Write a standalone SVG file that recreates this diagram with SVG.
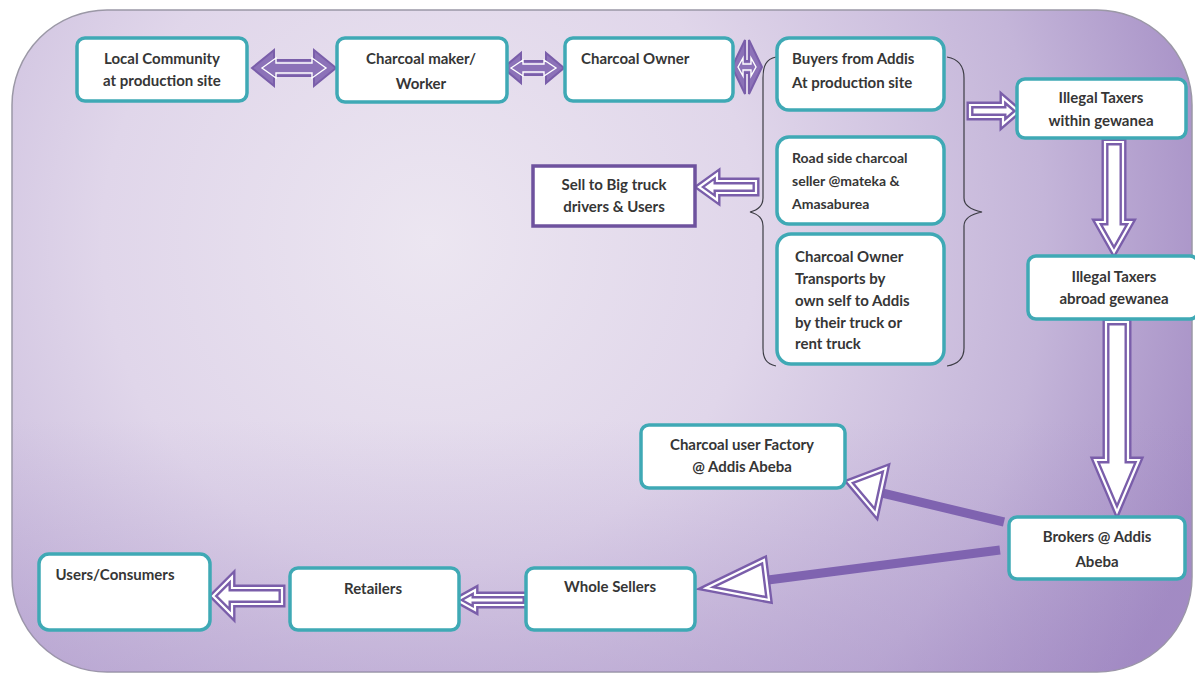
<svg xmlns="http://www.w3.org/2000/svg" width="1195" height="674" viewBox="0 0 1195 674">
<defs>
<radialGradient id="bg" gradientUnits="userSpaceOnUse" cx="430" cy="240" r="820">
<stop offset="0" stop-color="#ece6f1"/>
<stop offset="0.4" stop-color="#e0d6ea"/>
<stop offset="0.75" stop-color="#c4b5d9"/>
<stop offset="1" stop-color="#a38cc4"/>
</radialGradient>
<linearGradient id="bot" gradientUnits="userSpaceOnUse" x1="0" y1="420" x2="0" y2="672">
<stop offset="0" stop-color="#9f86c2" stop-opacity="0"/>
<stop offset="1" stop-color="#9f86c2" stop-opacity="0.35"/>
</linearGradient>
<style>
.node rect{fill:#ffffff;stroke:#3fa9b5;stroke-width:3.5}
.sq rect{fill:#ffffff;stroke:#6e529e;stroke-width:3.5}
text{font-family:Lato,"Open Sans","Liberation Sans",sans-serif;font-weight:bold;font-size:15px;fill:#363636}
.c{text-anchor:middle}
.sm{font-size:14px}
.blk{fill:#ffffff;stroke:#7a5eaa;stroke-width:7;stroke-linejoin:miter}
.blkin{fill:none;stroke:#ffffff;stroke-width:2.2;stroke-linejoin:miter}
.dbl{fill:#8c72b8;stroke:#7a5eaa;stroke-width:2}
.dblin{fill:none;stroke:#ffffff;stroke-width:1.4}
.shaft{stroke:#7f63b0;stroke-width:9;fill:none}
.brace{fill:none;stroke:#3c3c44;stroke-width:1.2}
</style>
</defs>
<rect x="12" y="10" width="1180" height="662" rx="95" ry="95" fill="url(#bg)" stroke="#9b98a6" stroke-width="1.5"/>
<rect x="12" y="10" width="1180" height="662" rx="95" ry="95" fill="url(#bot)"/>

<g id="connectors">
<polygon class="dbl" points="252,68 274,50 274,60 314,60 314,50 336,68 314,86 314,76 274,76 274,86"/>
<polygon class="dblin" points="262,68 276,58 276,63 312,63 312,58 326,68 312,78 312,73 276,73 276,78"/>
<polygon class="dbl" points="503,68 521,53 521,61 546,61 546,53 564,68 546,83 546,75 521,75 521,83"/>
<polygon class="dblin" points="511,68 523,60 523,64 544,64 544,60 556,68 544,76 544,72 523,72 523,76"/>
<polygon class="dbl" points="732,67 745,40 745,61 749,61 749,40 762,67 749,94 749,73 745,73 745,94"/>
<polygon class="dblin" points="738,67 743,58 743,64 751,64 751,58 756,67 751,76 751,70 743,70 743,76"/>
<polygon class="blk" points="970,105 1003,105 1003,98 1018,111 1003,124 1003,117 970,117"/>
<polygon class="blkin" points="970,105 1003,105 1003,98 1018,111 1003,124 1003,117 970,117"/>
<polygon class="blk" points="1105,142 1123,142 1123,222 1131,222 1114,252 1097,222 1105,222"/>
<polygon class="blkin" points="1105,142 1123,142 1123,222 1131,222 1114,252 1097,222 1105,222"/>
<polygon class="blk" points="1106,322 1128,322 1128,460 1139,460 1117,512 1095,460 1106,460"/>
<polygon class="blkin" points="1106,322 1128,322 1128,460 1139,460 1117,512 1095,460 1106,460"/>
<polygon class="blk" points="756,181 717,181 717,174 699,187 717,200 717,193 756,193"/>
<polygon class="blkin" points="756,181 717,181 717,174 699,187 717,200 717,193 756,193"/>
<polygon class="blk" points="526,595 475,595 475,590 457,600 475,610 475,605 526,605"/>
<polygon class="blkin" points="526,595 475,595 475,590 457,600 475,610 475,605 526,605"/>
<polygon class="blk" points="282,588 232,588 232,577 213,596 232,615 232,604 282,604"/>
<polygon class="blkin" points="282,588 232,588 232,577 213,596 232,615 232,604 282,604"/>
<line class="shaft" x1="1004" y1="522" x2="882" y2="493"/>
<polygon class="blk" points="849,482 886,468 876,514"/>
<polygon class="blkin" points="849,482 886,468 876,514"/>
<line class="shaft" x1="1000" y1="550" x2="768" y2="580"/>
<polygon class="blk" points="706,588 764,560 769,600"/>
<polygon class="blkin" points="706,588 764,560 769,600"/>
<path class="brace" d="M776,57 C766,59 763,66 763,78 L763,198 C763,206 758,210 750,212 C758,214 763,218 763,226 L763,348 C763,358 766,364 776,366"/>
<path class="brace" d="M947,57 C959,59 964,66 964,78 L964,198 C964,206 972,210 982,212 C972,214 964,218 964,226 L964,348 C964,358 959,364 947,366"/>
</g>

<g id="n-local" class="node"><rect x="77" y="38" width="170" height="63" rx="8"/><text class="c" x="162" y="64">Local Community</text><text class="c" x="162" y="86">at production site</text></g>
<g id="n-maker" class="node"><rect x="337" y="38" width="170" height="64" rx="8"/><text class="c" x="421" y="64">Charcoal maker/</text><text class="c" x="421" y="89">Worker</text></g>
<g id="n-owner" class="node"><rect x="565" y="38" width="168" height="63" rx="8"/><text x="581" y="64">Charcoal Owner</text></g>
<g id="n-buyers" class="node"><rect x="777" y="38" width="167" height="72" rx="12"/><text x="792" y="64">Buyers from Addis</text><text x="792" y="88">At production site</text></g>
<g id="n-roadside" class="node"><rect x="777" y="137" width="167" height="87" rx="12"/><text class="sm" x="792" y="163">Road side charcoal</text><text class="sm" x="792" y="186">seller @mateka &amp;</text><text class="sm" x="792" y="209">Amasaburea</text></g>
<g id="n-transport" class="node"><rect x="777" y="234" width="167" height="130" rx="14"/><text x="795" y="262">Charcoal Owner</text><text x="795" y="284">Transports by</text><text x="795" y="306">own self to Addis</text><text x="795" y="328">by their truck or</text><text x="795" y="349">rent truck</text></g>
<g id="n-taxwithin" class="node"><rect x="1017" y="79" width="169" height="59" rx="8"/><text class="c" x="1101" y="103">Illegal Taxers</text><text class="c" x="1101" y="126">within gewanea</text></g>
<g id="n-taxabroad" class="node"><rect x="1028" y="256" width="170" height="63" rx="8"/><text class="c" x="1114" y="282">Illegal Taxers</text><text class="c" x="1114" y="304">abroad gewanea</text></g>
<g id="n-sell" class="sq"><rect x="533" y="166" width="162" height="60"/><text class="c" x="614" y="190">Sell to Big truck</text><text class="c" x="614" y="212">drivers &amp; Users</text></g>
<g id="n-factory" class="node"><rect x="641" y="425" width="204" height="63" rx="8"/><text class="c" x="742" y="450">Charcoal user Factory</text><text class="c" x="742" y="472">@ Addis Abeba</text></g>
<g id="n-brokers" class="node"><rect x="1009" y="517" width="176" height="62" rx="8"/><text class="c" x="1097" y="542">Brokers @ Addis</text><text class="c" x="1097" y="567">Abeba</text></g>
<g id="n-users" class="node"><rect x="39" y="554" width="171" height="76" rx="10"/><text class="c" x="115" y="580">Users/Consumers</text></g>
<g id="n-retailers" class="node"><rect x="290" y="568" width="169" height="62" rx="8"/><text class="c" x="373" y="594">Retailers</text></g>
<g id="n-whole" class="node"><rect x="526" y="568" width="169" height="62" rx="8"/><text class="c" x="610" y="592">Whole Sellers</text></g>
</svg>
